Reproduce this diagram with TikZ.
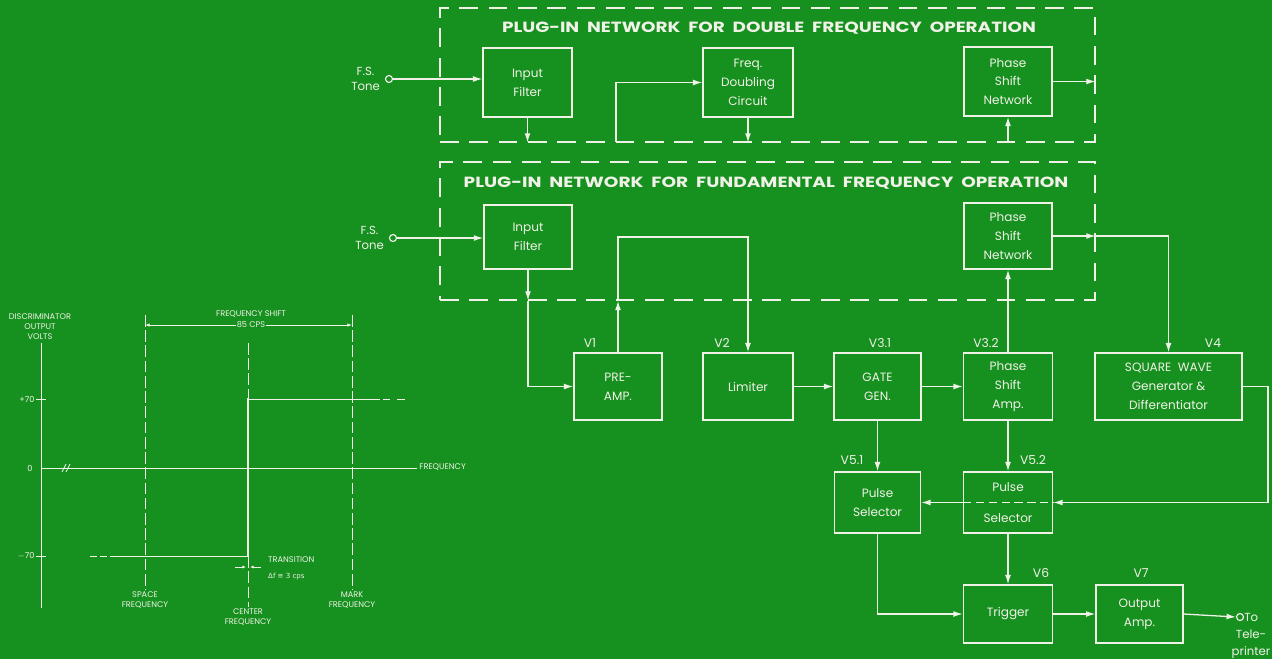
\documentclass[tikz,border=0pt]{standalone}
\usepackage{fontspec}
\setmainfont{Poppins}
\newfontfamily\dvsans{DejaVu Sans}
\usetikzlibrary{arrows.meta}
\definecolor{bg}{RGB}{22,144,30}
\definecolor{fg}{RGB}{240,242,232}
\newcommand\bxfont{\fontsize{10.3}{16}\selectfont}
\newcommand\tinyfnt{\fontsize{7}{8.5}\selectfont}
\begin{document}
\begin{tikzpicture}[x=0.03cm,y=-0.03cm,
  bx/.style n args={2}{draw=fg, line width=1.1pt, minimum width=#1*0.03cm, minimum height=#2*0.03cm, inner sep=0pt, align=center, text=fg, font=\bxfont},
  dbox/.style n args={2}{draw=fg, line width=1.1pt, dash pattern=on 16pt off 9pt, minimum width=#1*0.03cm, minimum height=#2*0.03cm, inner sep=0pt},
  wire/.style={draw=fg, line width=1.1pt},
  arr/.style={wire, -{Latex[length=8pt,width=5pt]}},
  vlab/.style={text=fg, font=\fontsize{10.5}{12}\selectfont},
  ttl/.style={text=fg, font=\bfseries\fontsize{12}{14}\selectfont},
  tonelab/.style={text=fg, font=\fontsize{10}{13}\selectfont, align=center},
  term/.style={circle, draw=fg, line width=1pt, minimum size=0.21cm, inner sep=0pt},
  tiny/.style={text=fg, font=\tinyfnt, align=center, inner sep=1pt},
  gline/.style={draw=fg, line width=0.7pt},
  gdash/.style={gline, dash pattern=on 10pt off 3pt}
]
\fill[bg] (0,0) rectangle (1272,659);
\useasboundingbox (0,0) rectangle (1272,659);

% ---------- plug-in network: double frequency ----------
\node[dbox={655}{134}] (dbox1) at (767.5,75) {};
\node[ttl] (t1) at (769,28) {\scalebox{1.31}[1.05]{PLUG-IN\ \ NETWORK\ \ FOR\ \ DOUBLE\ \ FREQUENCY\ \ OPERATION}};
\node[bx={89}{69}] (if1) at (527.5,82.5) {Input\\Filter};
\node[bx={90}{69}] (fd) at (748,82.5) {Freq.\\Doubling\\Circuit};
\node[bx={88}{69}] (psn1) at (1008,81.5) {Phase\\Shift\\Network};
\node[tonelab, anchor=east] (fs1) at (384,79) {F.S.\\Tone};
\node[term] (tone1) at (389,79) {};
\coordinate (fdin) at (616,142);

\draw[arr] (tone1.east) -- (tone1.east -| if1.west);
\draw[arr] (if1.south) -- (if1.south |- dbox1.south);
\draw[arr] (fdin) |- (fd.west);
\draw[arr] (fd.south) -- (fd.south |- dbox1.south);
\draw[arr] (psn1.south |- dbox1.south) -- (psn1.south);
\draw[arr] (psn1.east) -- (psn1.east -| dbox1.east);

% ---------- plug-in network: fundamental frequency ----------
\node[dbox={655}{138}] (dbox2) at (767.5,231) {};
\node[ttl] (t2) at (766,183) {\scalebox{1.32}[1.05]{PLUG-IN\ \ NETWORK\ \ FOR\ \ FUNDAMENTAL\ \ FREQUENCY\ \ OPERATION}};
\node[bx={88}{64}] (if2) at (528,237) {Input\\Filter};
\node[bx={88}{66}] (psn2) at (1008,236) {Phase\\Shift\\Network};
\node[tonelab, anchor=east] (fs2) at (388,238) {F.S.\\Tone};
\node[term] (tone2) at (393,238) {};

% ---------- main chain ----------
\node[bx={88}{67}] (pre) at (618,386.5) {PRE-\\AMP.};
\node[bx={90}{67}] (lim) at (748,386.5) {Limiter};
\node[bx={87}{67}] (gate) at (877.5,386.5) {GATE\\GEN.};
\node[bx={89}{67}] (psa) at (1008,386.5) {Phase\\Shift\\Amp.};
\node[bx={147}{67}] (sq) at (1168.5,386.5) {SQUARE\ \ WAVE\\Generator \&\\Differentiator};
\node[bx={86}{61}] (ps1) at (877.5,502.5) {Pulse\\Selector};
\node[bx={89}{61}] (ps2) at (1008,502.5) {Pulse\\[11pt]Selector};
\node[bx={89}{58}] (trig) at (1008,614) {Trigger};
\node[bx={87}{58}] (out) at (1139.5,614) {Output\\Amp.};
\node[term] (tp) at (1240,617) {};
\node[tonelab, anchor=west, inner sep=0pt] (to) at (1244,617) {To};
\node[tonelab, font=\fontsize{10}{14.5}\selectfont] (tele) at (1251,644) {Tele-\\printer};

\node[vlab] (v1) at (590,343) {V1};
\node[vlab] (v2) at (722,343) {V2};
\node[vlab] (v31) at (880,343) {V3.1};
\node[vlab] (v32) at (986,343) {V3.2};
\node[vlab] (v4) at (1213,343) {V4};
\node[vlab] (v51) at (852,460) {V5.1};
\node[vlab] (v52) at (1033,460) {V5.2};
\node[vlab] (v6) at (1041,573) {V6};
\node[vlab] (v7) at (1141,573) {V7};

\coordinate (loop) at (618,237);
\coordinate (rt) at (1268,0);

\draw[arr] (tone2.east) -- (tone2.east -| if2.west);
\draw[arr] (if2.south) -- (if2.south |- dbox2.south);
\draw[arr] (if2.south |- dbox2.south) |- (pre.west);
\draw[arr] (pre.north) -- (pre.north |- dbox2.south);
\draw[arr] (pre.north |- dbox2.south) -- (loop) -| (lim.north);
\draw[arr] (lim.east) -- (gate.west);
\draw[arr] (gate.east) -- (psa.west);
\draw[arr] (psa.north) -- (psn2.south);
\draw[arr] (psn2.east) -- (psn2.east -| dbox2.east);
\draw[arr] (psn2.east -| dbox2.east) -| (sq.north);
\draw[arr] (gate.south) -- (ps1.north);
\draw[arr] (psa.south) -- (ps2.north);
\draw[arr] (sq.east) -- (sq.east -| rt) |- (ps2.east);
\draw[wire, dash pattern=on 7pt off 4pt] (ps2.west) -- (ps2.east);
\draw[arr] (ps2.west) -- (ps1.east);
\draw[arr] (ps1.south) |- (trig.west);
\draw[arr] (ps2.south) -- (trig.north);
\draw[arr] (trig.east) -- (out.west);
\draw[arr] (out.east) -- (tp.west);

% ---------- discriminator characteristic ----------
\node[tiny] (ylab) at (40,327) {DISCRIMINATOR\\OUTPUT\\VOLTS};
\draw[gline] (41,343) -- (41,608);
\draw[gline] (36,399) -- (46,399);
\draw[gline] (36,556) -- (46,556);
\node[tiny, anchor=east] (p70) at (36,399) {+70};
\node[tiny, anchor=east] (z0) at (34,468) {0};
\node[tiny, anchor=east] (m70) at (36,556) {$-$70};
\draw[gline] (41,468) -- (417,468);
\draw[gline] (62,472) -- (66,464) (66,472) -- (70,464);
\node[tiny, anchor=west] (fq) at (418,467) {FREQUENCY};

\draw[gdash] (145,315) -- (145,590);
\draw[gdash] (248,343) -- (248,607);
\draw[gdash] (352,315) -- (352,590);
\draw[gline, {Latex[length=4pt,width=3pt]}-{Latex[length=4pt,width=3pt]}] (145,325) -- (352,325);
\node[tiny, fill=bg] (cps) at (251,325) {85 CPS};
\node[tiny] (fsh) at (251,314) {FREQUENCY SHIFT};

\draw[gline] (90,556) -- (97,556) (100,556) -- (107,556);
\draw[gline] (110,556) -- (248,556);
\draw[draw=fg, line width=2.2pt] (248,557) -- (248,398);
\draw[gline] (248,399) -- (380,399);
\draw[gline] (383,399) -- (390,399) (397,399) -- (405,399);

\draw[gline, -{Latex[length=3pt,width=2.5pt]}] (235,567) -- (246,567);
\draw[gline, -{Latex[length=3pt,width=2.5pt]}] (261,567) -- (250,567);
\node[tiny, anchor=west, inner sep=0pt] (tr1) at (268,560) {TRANSITION};
\node[tiny, anchor=west, inner sep=0pt, font=\dvsans\fontsize{6}{7}\selectfont] (tr2) at (268,577) {Δf ≅ 3 cps};

\node[tiny] (spf) at (145,600) {SPACE\\FREQUENCY};
\node[tiny] (cef) at (248,617) {CENTER\\FREQUENCY};
\node[tiny] (mkf) at (352,600) {MARK\\FREQUENCY};
\end{tikzpicture}
\end{document}
